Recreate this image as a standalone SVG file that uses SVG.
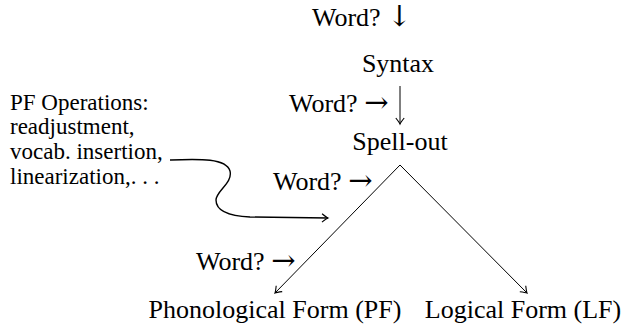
<svg xmlns="http://www.w3.org/2000/svg" width="627" height="325" viewBox="0 0 627 325">
<style>
text{font-family:"Liberation Serif","Times New Roman",serif;fill:#000}
.m{font-size:26px}
.s{font-size:23px}
.a{font-family:"DejaVu Serif",serif;font-size:29px}
.c{fill:none;stroke:#000;stroke-width:1}
.cv{fill:none;stroke:#000;stroke-width:1.4}
</style>
<defs>
<marker id="ah" markerWidth="12" markerHeight="12" refX="0" refY="0" viewBox="-8 -6 10 12" orient="auto" markerUnits="userSpaceOnUse">
<path d="M-6,-4.2 Q-1.5,-0.6 0,0 Q-1.5,0.6 -6,4.2" fill="none" stroke="#000" stroke-width="1.1"/>
</marker>
</defs>
<g id="word-top"><text class="m" x="312" y="26">Word? <tspan class="a">↓</tspan></text></g>
<g id="syntax"><text class="m" x="398" y="72" text-anchor="middle">Syntax</text></g>
<g id="word-2"><text class="m" x="289" y="112">Word? <tspan class="a">→</tspan></text></g>
<g id="spellout"><text class="m" x="400" y="150" text-anchor="middle">Spell-out</text></g>
<g id="word-3"><text class="m" x="273" y="190">Word? <tspan class="a">→</tspan></text></g>
<g id="word-4"><text class="m" x="196" y="270">Word? <tspan class="a">→</tspan></text></g>
<g id="pf"><text class="m" x="275" y="318" text-anchor="middle">Phonological Form (PF)</text></g>
<g id="lf"><text class="m" x="523" y="318" text-anchor="middle">Logical Form (LF)</text></g>
<g id="pf-ops">
<text class="s" x="10" y="110">PF Operations:</text>
<text class="s" x="10" y="134">readjustment,</text>
<text class="s" x="10" y="159">vocab. insertion,</text>
<text class="s" x="10" y="184">linearization,. . .</text>
</g>
<g id="connectors">
<line class="c" x1="400" y1="86" x2="400" y2="124" marker-end="url(#ah)"/>
<line class="c" x1="400" y1="165" x2="275" y2="293" marker-end="url(#ah)"/>
<line class="c" x1="400" y1="165" x2="527" y2="293" marker-end="url(#ah)"/>
<path class="cv" d="M170,160 C200,159 226,158 230,171 C233,183 216,191 216,200 C216,210 228,216 250,217 L328,218" marker-end="url(#ah)"/>
</g>
</svg>
